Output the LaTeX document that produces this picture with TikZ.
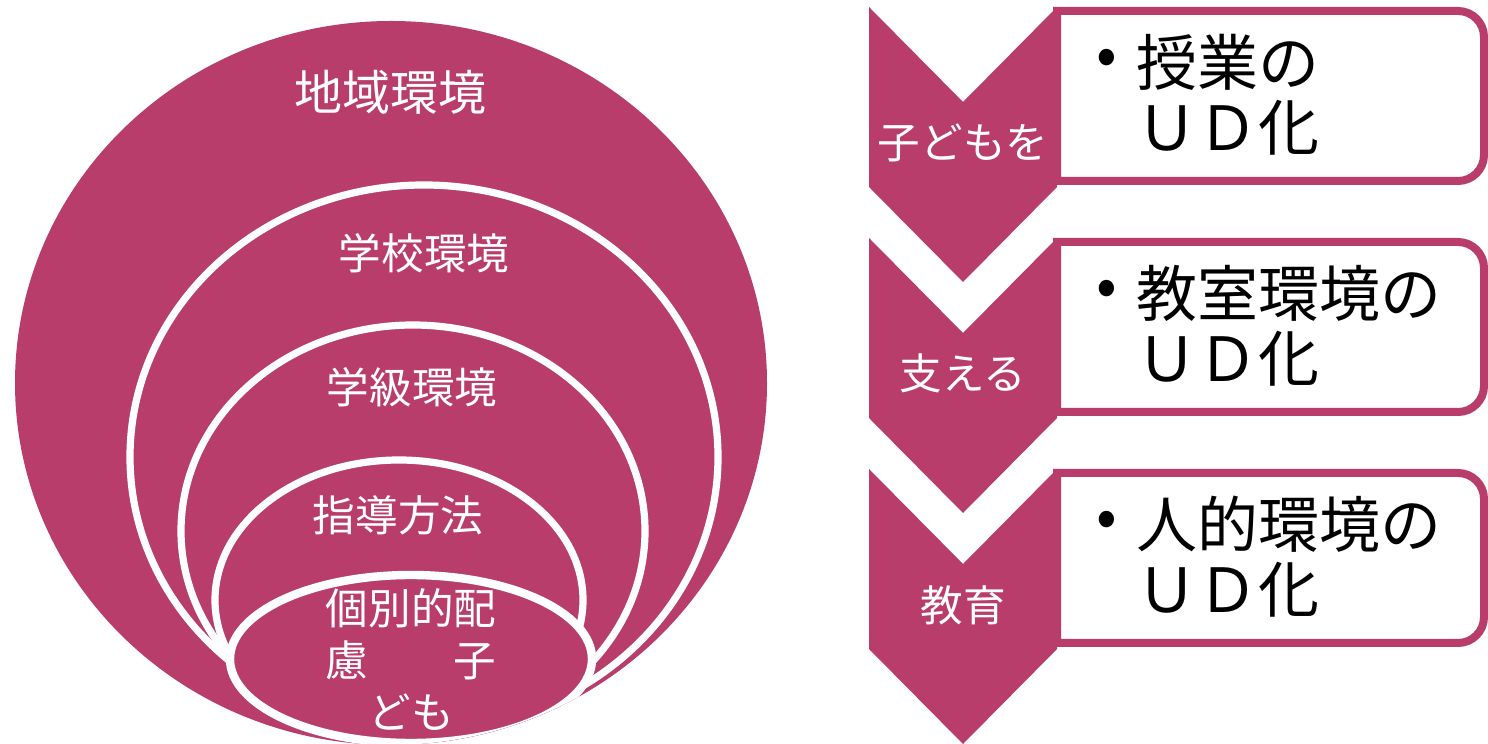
\documentclass[tikz,border=0pt]{standalone}
\usepackage{fontspec}
\setmainfont{Noto Sans CJK JP}
\definecolor{mag}{HTML}{B93D6A}
\begin{document}
\begin{tikzpicture}[x=0.5pt,y=0.5pt,
  ring/.style={fill=mag,draw=white,line width=3.6pt},
  biglbl/.style={text=white,inner sep=0pt,font=\fontsize{24}{26}\selectfont},
  lbl/.style={text=white,inner sep=0pt,font=\fontsize{21.3}{26}\selectfont},
  chev/.style={fill=mag},
  boxst/.style={draw=mag,fill=white,line width=4pt},
  btxt/.style={text=black,inner sep=0pt,anchor=west,font=\fontsize{30.5}{33}\selectfont},
  bul/.style={text=black,inner sep=0pt,font=\fontsize{30.5}{33}\selectfont}]
\useasboundingbox (0,0) rectangle (1488,744);
\clip (0,0) rectangle (1488,744);
% nested environments
\fill[mag] (391,361) ellipse [x radius=376, y radius=362];
\begin{scope}
  \clip (391,361) ellipse [x radius=376, y radius=362];
  \draw[ring] (424,287) ellipse [x radius=294, y radius=272];
  \draw[ring] (413,213) ellipse [x radius=232, y radius=206];
  \draw[ring] (399,144) ellipse [x radius=184, y radius=140];
  \draw[ring,line width=4.2pt] (411,85) ellipse [x radius=181, y radius=84];
\end{scope}
\node[biglbl] (t1) at (390,652) {地域環境};
\node[lbl] (t2) at (424,491) {学校環境};
\node[lbl] (t3) at (412,357) {学級環境};
\node[lbl] (t4) at (398,229) {指導方法};
\node[lbl,align=center] (t5) at (411,84) {個別的配\\慮　　子\\ども};
% boxes
\draw[boxst] (1057,563) -- (1057,733) -- (1458,733) arc[start angle=90,end angle=0,radius=26] -- (1484,589) arc[start angle=0,end angle=-90,radius=26] -- cycle;
\draw[boxst] (1057,332) -- (1057,502) -- (1458,502) arc[start angle=90,end angle=0,radius=26] -- (1484,358) arc[start angle=0,end angle=-90,radius=26] -- cycle;
\draw[boxst] (1057,101) -- (1057,271) -- (1458,271) arc[start angle=90,end angle=0,radius=26] -- (1484,127) arc[start angle=0,end angle=-90,radius=26] -- cycle;
% chevrons
\fill[chev] (869,737) -- (963,642) -- (1057,737) -- (1057,557) -- (963,462) -- (869,557) -- cycle;
\fill[chev] (869,506) -- (963,411) -- (1057,506) -- (1057,326) -- (963,231) -- (869,326) -- cycle;
\fill[chev] (869,275) -- (963,180) -- (1057,275) -- (1057,95) -- (963,0) -- (869,95) -- cycle;
\node[lbl] (c1) at (963,601) {子どもを};
\node[lbl] (c2) at (963,371) {支える};
\node[lbl] (c3) at (963,139) {教育};
% box texts
\node[bul] (b1) at (1107,682) {•};
\node[btxt] (l1a) at (1136,682) {授業の};
\node[btxt] (l1b) at (1136,616) {ＵＤ化};
\node[bul] (b2) at (1107,451) {•};
\node[btxt] (l2a) at (1136,451) {教室環境の};
\node[btxt] (l2b) at (1136,385) {ＵＤ化};
\node[bul] (b3) at (1107,220) {•};
\node[btxt] (l3a) at (1136,220) {人的環境の};
\node[btxt] (l3b) at (1136,154) {ＵＤ化};
\end{tikzpicture}
\end{document}
